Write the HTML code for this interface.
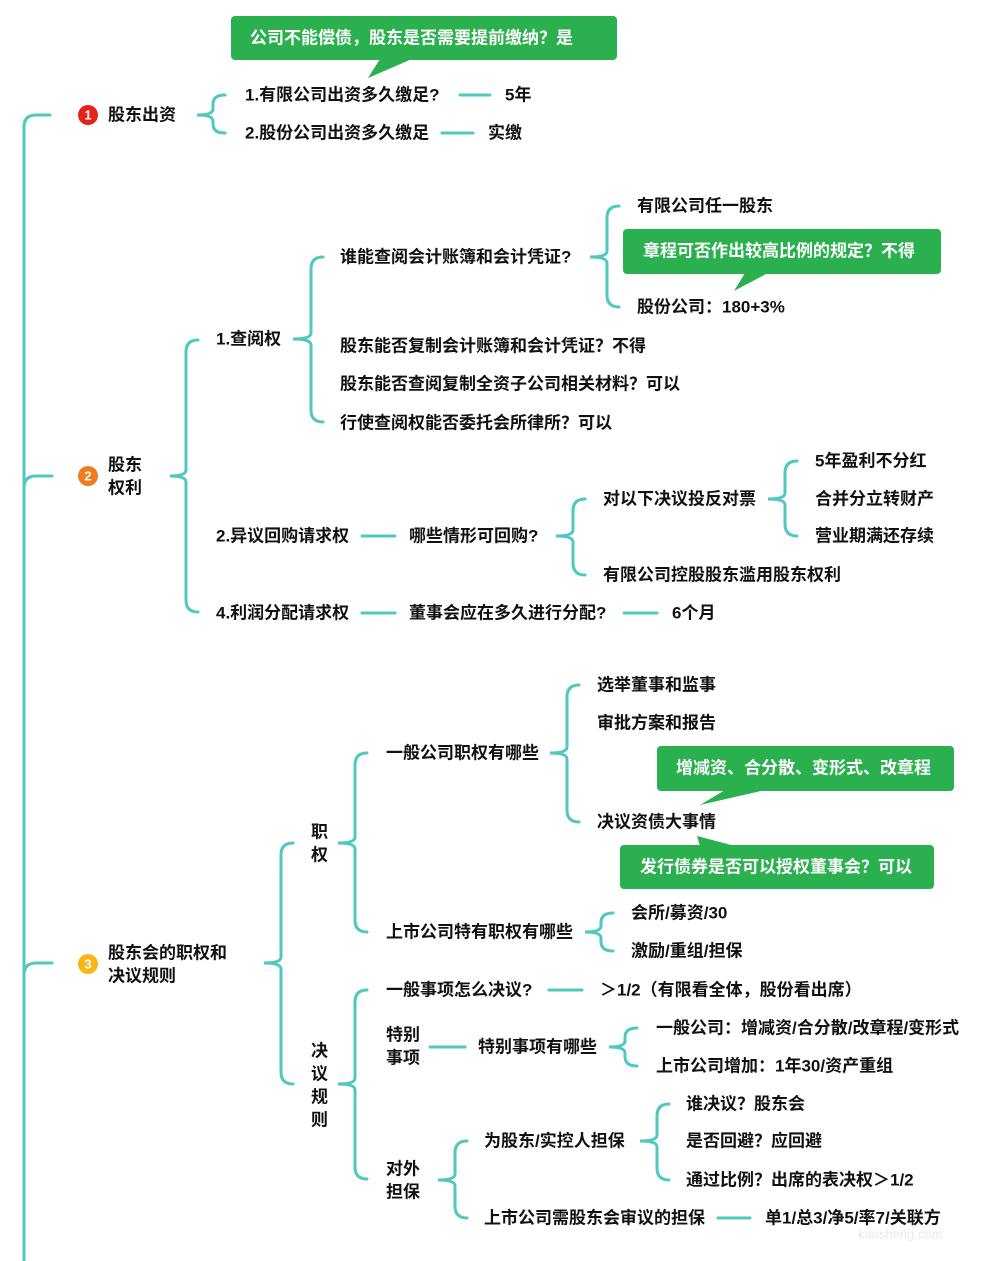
<!DOCTYPE html>
<html><head><meta charset="utf-8">
<style>
html,body{margin:0;padding:0;background:#fff;}
svg{display:block;}
text{font-family:"Liberation Sans","Noto Sans CJK SC",sans-serif;font-weight:bold;font-size:17px;fill:#111;dominant-baseline:central;}
.w{fill:#fff;}
.l{stroke:#4fc8be;stroke-width:3;fill:none;stroke-linecap:round;}
.g{fill:#2bb04f;}
</style></head><body>
<svg id="s" width="989" height="1261" viewBox="0 0 989 1261" xmlns="http://www.w3.org/2000/svg">
<g id="lines"></g>
<path class="l" d="M24 1261 L24 127 Q24 115 36 115 L50 115"/>
<path class="l" d="M24 488 Q24 476 36 476 L52 476"/>
<path class="l" d="M24 975 Q24 963 36 963 L52 963"/>

<rect class="g" x="231" y="16" width="386" height="44" rx="4"/>
<path class="g" d="M380 59 L412 59 L368 78 Z"/>
<text class="w" x="250" y="38">公司不能偿债，股东是否需要提前缴纳？是</text>

<rect class="g" x="623" y="229" width="318" height="45" rx="4"/>
<path class="g" d="M745 273 L768 273 L734 291 Z"/>
<text class="w" x="643" y="251">章程可否作出较高比例的规定？不得</text>

<rect class="g" x="657" y="746" width="297" height="45" rx="4"/>
<path class="g" d="M725 790 L765 790 L700 805 Z"/>
<text class="w" x="676" y="768">增减资、合分散、变形式、改章程</text>

<rect class="g" x="620" y="845" width="314" height="44" rx="4"/>
<path class="g" d="M700 846 L735 846 L697 836 Z"/>
<text class="w" x="640" y="867">发行债券是否可以授权董事会？可以</text>

<circle cx="88" cy="115" r="10" fill="#e5231b"/>
<text class="w" x="88" y="115" text-anchor="middle" style="font-size:13px">1</text>
<text x="108" y="115">股东出资</text>
<text x="245" y="95">1.有限公司出资多久缴足?</text>
<text x="505" y="95">5年</text>
<text x="245" y="133">2.股份公司出资多久缴足</text>
<text x="488" y="133">实缴</text>

<circle cx="88" cy="476" r="10" fill="#f27a21"/>
<text class="w" x="88" y="476" text-anchor="middle" style="font-size:13px">2</text>
<text x="108" y="465">股东</text>
<text x="108" y="488">权利</text>
<text x="216" y="339">1.查阅权</text>
<text x="340" y="257">谁能查阅会计账簿和会计凭证?</text>
<text x="637" y="206">有限公司任一股东</text>
<text x="637" y="307">股份公司：180+3%</text>
<text x="340" y="346">股东能否复制会计账簿和会计凭证？不得</text>
<text x="340" y="384">股东能否查阅复制全资子公司相关材料？可以</text>
<text x="340" y="423">行使查阅权能否委托会所律所？可以</text>
<text x="216" y="536">2.异议回购请求权</text>
<text x="409" y="536">哪些情形可回购?</text>
<text x="603" y="499">对以下决议投反对票</text>
<text x="815" y="461">5年盈利不分红</text>
<text x="815" y="499">合并分立转财产</text>
<text x="815" y="536">营业期满还存续</text>
<text x="603" y="575">有限公司控股股东滥用股东权利</text>
<text x="216" y="613">4.利润分配请求权</text>
<text x="409" y="613">董事会应在多久进行分配?</text>
<text x="672" y="613">6个月</text>

<circle cx="88" cy="964" r="10" fill="#f7b516"/>
<text class="w" x="88" y="964" text-anchor="middle" style="font-size:13px">3</text>
<text x="108" y="953">股东会的职权和</text>
<text x="108" y="976">决议规则</text>
<text x="311" y="832">职</text>
<text x="311" y="855">权</text>
<text x="386" y="753">一般公司职权有哪些</text>
<text x="597" y="685">选举董事和监事</text>
<text x="597" y="723">审批方案和报告</text>
<text x="597" y="822">决议资债大事情</text>
<text x="386" y="932">上市公司特有职权有哪些</text>
<text x="631" y="913">会所/募资/30</text>
<text x="631" y="951">激励/重组/担保</text>
<text x="311" y="1051">决</text>
<text x="311" y="1074">议</text>
<text x="311" y="1097">规</text>
<text x="311" y="1120">则</text>
<text x="386" y="990">一般事项怎么决议?</text>
<text x="600" y="990">＞1/2（有限看全体，股份看出席）</text>
<text x="386" y="1035">特别</text>
<text x="386" y="1058">事项</text>
<text x="478" y="1047">特别事项有哪些</text>
<text x="656" y="1028">一般公司：增减资/合分散/改章程/变形式</text>
<text x="656" y="1066">上市公司增加：1年30/资产重组</text>
<text x="386" y="1169">对外</text>
<text x="386" y="1192">担保</text>
<text x="484" y="1141">为股东/实控人担保</text>
<text x="686" y="1104">谁决议？股东会</text>
<text x="686" y="1141">是否回避？应回避</text>
<text x="686" y="1180">通过比例？出席的表决权＞1/2</text>
<text x="484" y="1218">上市公司需股东会审议的担保</text>
<text x="765" y="1218">单1/总3/净5/率7/关联方</text>
<text x="858" y="1234" style="font-size:13px;fill:#e9e9e9;font-weight:normal">kaosheng.com</text>
</svg>
<script>
var g=document.getElementById('lines');
function p(d){var e=document.createElementNS('http://www.w3.org/2000/svg','path');e.setAttribute('d',d);e.setAttribute('class','l');g.appendChild(e);}
function br(x,y1,y2,ym,tip){
 var r=Math.min(12,(ym-y1)/2,(y2-ym)/2);
 p('M'+(x+12)+' '+y1+' Q'+x+' '+y1+' '+x+' '+(y1+r)+' L'+x+' '+(ym-6)+' Q'+x+' '+ym+' '+tip+' '+ym+' Q'+x+' '+ym+' '+x+' '+(ym+6)+' L'+x+' '+(y2-r)+' Q'+x+' '+y2+' '+(x+12)+' '+y2);
}
function hl(x1,x2,y){p('M'+x1+' '+y+' L'+x2+' '+y);}
br(213,95,133,115,197);
hl(460,490,95);hl(442,473,133);
br(186,340,612,476,170);
br(311,257,422,339,293);
br(607,206,307,257,590);
hl(362,395,536);
br(573,499,575,536,556);
br(785,461,536,499,768);
hl(362,395,613);hl(624,657,613);
br(281,843,1084,963,264);
br(355,753,932,843,338);
br(567,685,822,753,550);
br(601,913,951,932,585);
br(355,990,1179,1084,338);
hl(549,582,990);hl(430,465,1047);
br(625,1028,1066,1047,609);
br(455,1141,1218,1180,438);
br(657,1104,1180,1141,640);
hl(718,750,1218);
</script>
</body></html>
